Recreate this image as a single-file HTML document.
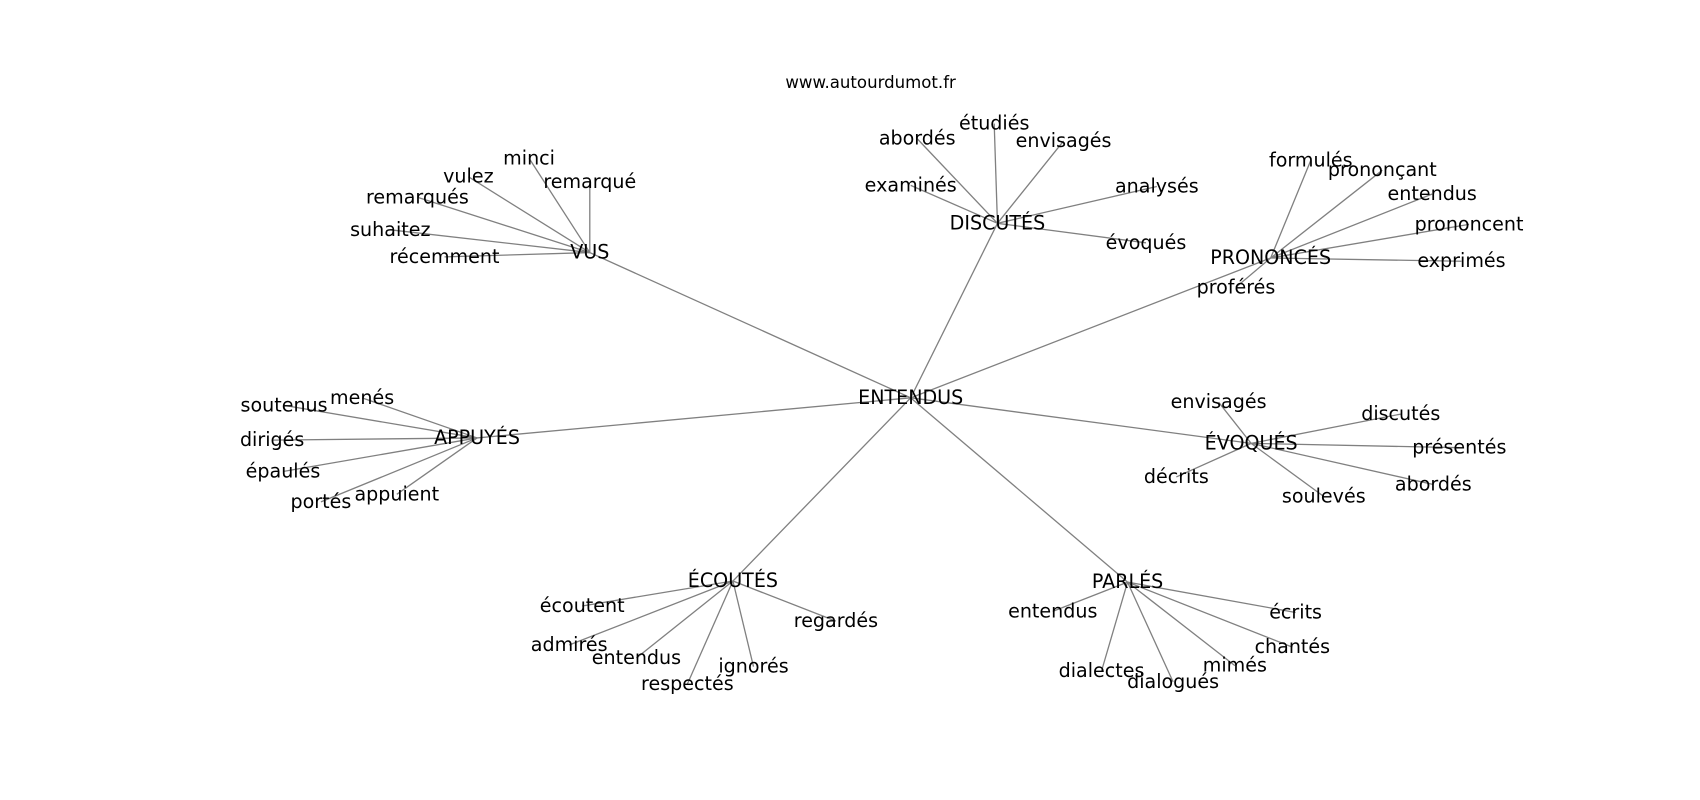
<!DOCTYPE html>
<html><head><meta charset="utf-8"><style>
html,body{margin:0;padding:0;background:#fff;}
svg{display:block;}
text{font-family:"DejaVu Sans","Liberation Sans",sans-serif;font-size:17.6px;fill:#000;text-anchor:middle;dominant-baseline:central;}
line{stroke:#808080;stroke-width:1.2;}
</style></head><body>
<svg width="1700" height="800" viewBox="0 0 1568 738" preserveAspectRatio="none" xmlns="http://www.w3.org/2000/svg">
<g>
<line x1="840" y1="367" x2="544" y2="233"/>
<line x1="840" y1="367" x2="920" y2="206"/>
<line x1="840" y1="367" x2="1172" y2="238"/>
<line x1="840" y1="367" x2="440" y2="404"/>
<line x1="840" y1="367" x2="1154" y2="409"/>
<line x1="840" y1="367" x2="676" y2="536"/>
<line x1="840" y1="367" x2="1040" y2="537"/>

<line x1="544" y1="233" x2="488" y2="146"/>
<line x1="544" y1="233" x2="432" y2="163"/>
<line x1="544" y1="233" x2="544" y2="168"/>
<line x1="544" y1="233" x2="385" y2="182"/>
<line x1="544" y1="233" x2="360" y2="212"/>
<line x1="544" y1="233" x2="410" y2="237"/>

<line x1="920" y1="206" x2="846" y2="128"/>
<line x1="920" y1="206" x2="917" y2="114"/>
<line x1="920" y1="206" x2="981" y2="130"/>
<line x1="920" y1="206" x2="840" y2="171"/>
<line x1="920" y1="206" x2="1067" y2="172"/>
<line x1="920" y1="206" x2="1057" y2="224"/>

<line x1="1172" y1="238" x2="1209" y2="148"/>
<line x1="1172" y1="238" x2="1275" y2="157"/>
<line x1="1172" y1="238" x2="1321" y2="179"/>
<line x1="1172" y1="238" x2="1355" y2="207"/>
<line x1="1172" y1="238" x2="1348" y2="241"/>
<line x1="1172" y1="238" x2="1140" y2="265"/>

<line x1="440" y1="404" x2="334" y2="367"/>
<line x1="440" y1="404" x2="262" y2="374"/>
<line x1="440" y1="404" x2="251" y2="406"/>
<line x1="440" y1="404" x2="261" y2="435"/>
<line x1="440" y1="404" x2="296" y2="463"/>
<line x1="440" y1="404" x2="366" y2="456"/>

<line x1="1154" y1="409" x2="1124" y2="371"/>
<line x1="1154" y1="409" x2="1292" y2="382"/>
<line x1="1154" y1="409" x2="1346" y2="413"/>
<line x1="1154" y1="409" x2="1085" y2="440"/>
<line x1="1154" y1="409" x2="1221" y2="458"/>
<line x1="1154" y1="409" x2="1322" y2="447"/>

<line x1="676" y1="536" x2="537" y2="559"/>
<line x1="676" y1="536" x2="525" y2="595"/>
<line x1="676" y1="536" x2="587" y2="607"/>
<line x1="676" y1="536" x2="634" y2="631"/>
<line x1="676" y1="536" x2="695" y2="615"/>
<line x1="676" y1="536" x2="771" y2="573"/>

<line x1="1040" y1="537" x2="971" y2="564"/>
<line x1="1040" y1="537" x2="1195" y2="565"/>
<line x1="1040" y1="537" x2="1192" y2="597"/>
<line x1="1040" y1="537" x2="1139" y2="614"/>
<line x1="1040" y1="537" x2="1016" y2="619"/>
<line x1="1040" y1="537" x2="1082" y2="629"/>
</g>
<text x="803" y="76" style="font-size:15.3px">www.autourdumot.fr</text>
<text x="840" y="367">ENTENDUS</text>
<text x="544" y="233">VUS</text>
<text x="920" y="206">DISCUTÉS</text>
<text x="1172" y="238">PRONONCÉS</text>
<text x="440" y="404">APPUYÉS</text>
<text x="1154" y="409">ÉVOQUÉS</text>
<text x="676" y="536">ÉCOUTÉS</text>
<text x="1040" y="537">PARLÉS</text>

<text x="488" y="146">minci</text>
<text x="432" y="163">vulez</text>
<text x="544" y="168">remarqué</text>
<text x="385" y="182">remarqués</text>
<text x="360" y="212">suhaitez</text>
<text x="410" y="237">récemment</text>

<text x="846" y="128">abordés</text>
<text x="917" y="114">étudiés</text>
<text x="981" y="130">envisagés</text>
<text x="840" y="171">examinés</text>
<text x="1067" y="172">analysés</text>
<text x="1057" y="224">évoqués</text>

<text x="1209" y="148">formulés</text>
<text x="1275" y="157">prononçant</text>
<text x="1321" y="179">entendus</text>
<text x="1355" y="207">prononcent</text>
<text x="1348" y="241">exprimés</text>
<text x="1140" y="265">proférés</text>

<text x="334" y="367">menés</text>
<text x="262" y="374">soutenus</text>
<text x="251" y="406">dirigés</text>
<text x="261" y="435">épaulés</text>
<text x="296" y="463">portés</text>
<text x="366" y="456">appuient</text>

<text x="1124" y="371">envisagés</text>
<text x="1292" y="382">discutés</text>
<text x="1346" y="413">présentés</text>
<text x="1085" y="440">décrits</text>
<text x="1221" y="458">soulevés</text>
<text x="1322" y="447">abordés</text>

<text x="537" y="559">écoutent</text>
<text x="525" y="595">admirés</text>
<text x="587" y="607">entendus</text>
<text x="634" y="631">respectés</text>
<text x="695" y="615">ignorés</text>
<text x="771" y="573">regardés</text>

<text x="971" y="564">entendus</text>
<text x="1195" y="565">écrits</text>
<text x="1192" y="597">chantés</text>
<text x="1139" y="614">mimés</text>
<text x="1016" y="619">dialectes</text>
<text x="1082" y="629">dialogués</text>
</svg>
</body></html>
